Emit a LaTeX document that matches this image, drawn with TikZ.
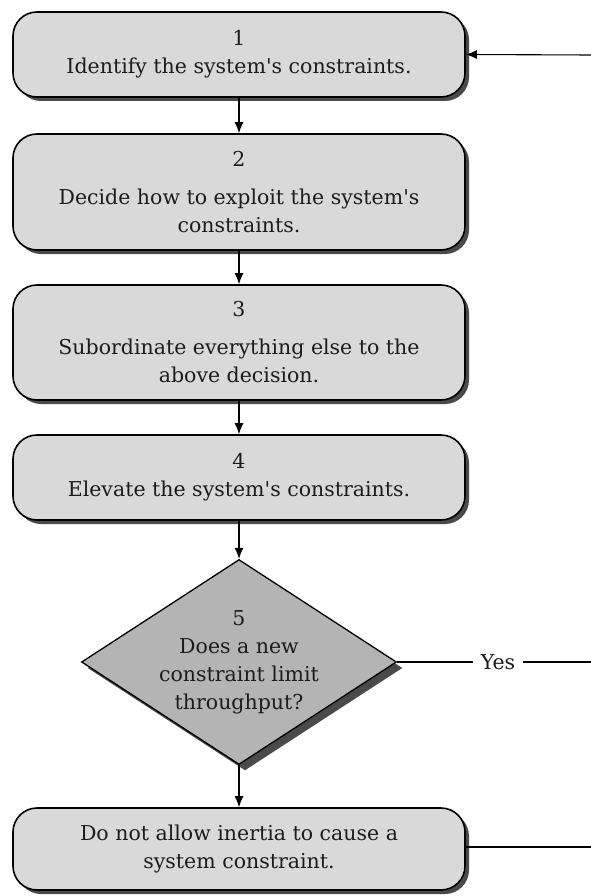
\documentclass[tikz,border=0pt]{standalone}
\usepackage{fontspec}
\setmainfont{DejaVu Serif}
\usetikzlibrary{arrows.meta,shapes.geometric,shadows}
\definecolor{boxgray}{HTML}{D9D9D9}
\definecolor{diagray}{HTML}{B4B4B4}
\definecolor{shadowgray}{HTML}{4A4A4A}
\definecolor{inkgray}{HTML}{1C1C1C}
\newcommand{\apos}{\textquotesingle}
\begin{document}
\begin{tikzpicture}[x=1pt,y=-1pt,
  every node/.style={text=inkgray, font=\fontsize{20.5}{28}\selectfont},
  stepbox/.style={draw=black, line width=1.6pt, fill=boxgray, rounded corners=24pt,
    minimum width=452pt, align=center, inner sep=0pt,
    drop shadow={shadow xshift=4pt, shadow yshift=-4pt, fill=shadowgray, opacity=1}},
  decision/.style={diamond, draw=black, line width=1.3pt, fill=diagray,
    minimum width=315pt, minimum height=205pt, inner sep=0pt,
    drop shadow={shadow xshift=6pt, shadow yshift=-6pt, fill=shadowgray, opacity=1}},
  flow/.style={draw=black, line width=1.1pt, -{Latex[length=11pt,width=9pt]}},
  plain/.style={draw=black, line width=1.1pt}
]
\useasboundingbox (0,0) rectangle (591,896);
\fill[white] (0,0) rectangle (591,896);

% the five steps of the process
\node[stepbox, minimum height=85pt] (s1) at (239,54.5)
  {1\\Identify the system\apos s constraints.};
\node[stepbox, minimum height=116pt] (s2) at (239,192)
  {2\\[10pt]Decide how to exploit the system\apos s\\constraints.};
\node[stepbox, minimum height=115pt] (s3) at (239,342.5)
  {3\\[10pt]Subordinate everything else to the\\above decision.};
\node[stepbox, minimum height=85pt] (s4) at (239,477.5)
  {4\\Elevate the system\apos s constraints.};
\node[decision] (s5) at (239,662) {};
\node[align=center] (s5txt) at (s5.center) {5\\Does a new\\constraint limit\\throughput?};
\node[stepbox, minimum height=82pt] (s6) at (239,849)
  {Do not allow inertia to cause a\\system constraint.};

% downward flow
\draw[flow] (s1.south) -- (s2.north);
\draw[flow] (s2.south) -- (s3.north);
\draw[flow] (s3.south) -- (s4.north);
\draw[flow] (s4.south) -- (s5.north);
\draw[flow] (s5.south) -- (s6.north);

% feedback loop on the right
\coordinate (loopin) at (591,55);
\coordinate (yesout) at (591,662);
\coordinate (inertiaout) at (591,847);
\draw[flow] (loopin) -- (s1.east);
\draw[plain] (s5.east) -- (yesout)
  node[pos=0.52, fill=white, inner xsep=8pt, inner ysep=2pt] (yes) {Yes};
\draw[plain] (s6.east |- inertiaout) -- (inertiaout);
\end{tikzpicture}
\end{document}
